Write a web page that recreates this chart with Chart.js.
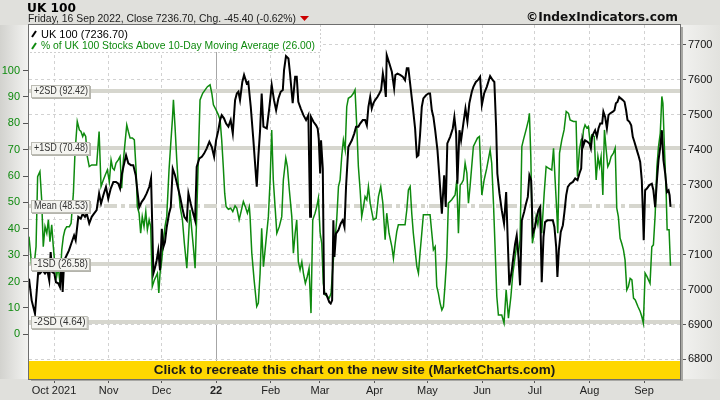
<!DOCTYPE html>
<html>
<head>
<meta charset="utf-8">
<script src="https://cdn.jsdelivr.net/npm/chart.js@4"></script>
<style>
  html, body { margin: 0; padding: 0; background: #e0e0dc; }
  #wrap { width: 720px; height: 400px; }
</style>
</head>
<body>
<div id="wrap"><canvas id="ukChart" width="720" height="400"></canvas></div>
<script>
// x values are days counted from 1 Oct 2021
const monthStarts = [0, 31, 61, 92, 123, 151, 182, 212, 243, 273, 304, 335];
const monthLabels = ['Oct 2021', 'Nov', 'Dec', '22', 'Feb', 'Mar', 'Apr', 'May', 'Jun', 'Jul', 'Aug', 'Sep'];
const priceTicks = [6800, 6900, 7000, 7100, 7200, 7300, 7400, 7500, 7600, 7700];
const pctTicks = [0, 10, 20, 30, 40, 50, 60, 70, 80, 90, 100];

// UK 100 close
const ukDays = [-14.2, -12.7, -10.8, -8.9, -8.0, -6.4, -5.1, -3.8, -2.7, -1.9, -1.0, 0.2, 1.1, 2.4, 3.4, 4.4, 4.9, 5.8, 7.2, 8.5,
  10.1, 11.4, 12.3, 13.8, 15.2, 16.3, 17.6, 18.6, 20.0, 21.4, 22.7, 24.2, 25.6, 26.7, 28.0, 29.5, 30.8, 32.2, 33.7, 35.2,
  36.5, 37.5, 38.4, 39.4, 40.9, 42.2, 43.7, 45.0, 46.4, 47.3, 48.4, 49.8, 51.1, 52.6, 54.1, 55.1, 55.8, 56.4, 57.4, 58.3,
  59.2, 60.2, 61.2, 62.1, 63.0, 64.0, 65.3, 66.3, 67.4, 68.7, 70.0, 71.6, 72.9, 74.0, 75.4, 76.3, 77.6, 78.8, 80.1, 81.0,
  82.5, 83.9, 85.2, 86.7, 88.2, 89.6, 90.9, 92.0, 93.3, 94.3, 95.2, 96.5, 97.7, 99.0, 100.3, 101.5, 102.8, 103.8, 104.7, 105.6,
  106.9, 107.9, 109.4, 110.3, 111.7, 113.2, 115.1, 116.0, 117.0, 117.9, 118.9, 120.8, 122.3, 123.6, 124.9, 126.1, 127.4, 128.7, 129.9, 130.6,
  131.7, 133.1, 134.0, 135.5, 136.9, 137.8, 138.7, 140.1, 141.6, 143.1, 144.4, 145.4, 145.9, 147.3, 148.8, 149.7, 150.3, 151.1, 151.6, 152.6,
  153.3, 154.5, 155.2, 156.3, 157.1, 157.9, 158.6, 159.2, 160.1, 161.5, 162.8, 163.9, 164.9, 165.8, 167.1, 169.1, 170.5, 171.5, 172.8, 173.8,
  175.3, 176.6, 177.6, 178.5, 179.5, 180.4, 181.3, 182.3, 183.6, 184.7, 185.7, 186.7, 187.6, 188.4, 188.9, 190.4, 191.8, 193.1, 193.8, 195.0,
  196.5, 198.0, 199.3, 200.3, 201.2, 202.6, 203.7, 205.0, 206.0, 206.9, 207.8, 208.8, 209.7, 211.2, 212.6, 213.5, 214.5, 215.4, 216.4, 217.7,
  218.8, 220.2, 221.5, 222.4, 223.3, 224.9, 226.4, 227.3, 228.3, 229.0, 230.2, 231.1, 232.4, 233.6, 234.7, 235.8, 237.2, 238.1, 239.5, 240.6,
  241.9, 242.9, 244.2, 245.7, 247.6, 249.1, 250.0, 251.0, 251.7, 252.9, 254.2, 255.5, 256.7, 257.6, 258.5, 259.9, 260.8, 261.8, 262.7, 263.7,
  264.6, 265.6, 266.9, 268.0, 269.0, 269.9, 270.9, 271.8, 273.1, 274.1, 275.0, 276.0, 276.9, 277.9, 278.8, 280.1, 281.7, 283.2, 284.1, 285.1,
  285.8, 286.6, 287.7, 288.9, 289.8, 290.8, 291.7, 293.0, 294.6, 295.9, 297.2, 298.3, 299.3, 300.0, 300.6, 301.5, 302.8, 304.0, 304.8, 305.5,
  306.3, 307.2, 308.2, 309.1, 310.1, 311.2, 311.9, 312.9, 313.9, 314.8, 315.7, 317.3, 318.2, 319.0, 319.9, 320.9, 321.8, 323.0, 323.9, 324.8,
  325.6, 326.7, 327.7, 328.6, 329.5, 330.9, 331.8, 332.8, 333.7, 334.3, 334.8, 335.6, 336.6, 338.0, 339.4, 340.3, 341.3, 342.3, 343.2, 344.2,
  345.1, 346.0, 347.0, 348.0, 348.9, 349.5, 350.0];
const ukClose = [7031, 6969, 6931, 7055, 7046, 7055, 7046, 7055, 7026, 7107, 7050, 7046, 7021, 7018, 7007, 7084, 6993, 7084, 7098, 7112,
  7136, 7155, 7141, 7208, 7203, 7217, 7208, 7217, 7189, 7208, 7217, 7227, 7275, 7246, 7270, 7294, 7260, 7289, 7308, 7308,
  7303, 7289, 7327, 7351, 7384, 7361, 7356, 7356, 7327, 7284, 7236, 7251, 7260, 7275, 7294, 7318, 7179, 7046, 7064, 7084,
  7112, 7055, 7174, 7122, 7136, 7179, 7217, 7236, 7346, 7327, 7299, 7265, 7232, 7208, 7198, 7275, 7246, 7222, 7198, 7351,
  7375, 7380, 7389, 7404, 7423, 7408, 7380, 7427, 7456, 7485, 7499, 7490, 7475, 7466, 7485, 7447, 7542, 7561, 7566, 7542,
  7594, 7614, 7590, 7594, 7523, 7427, 7294, 7380, 7456, 7561, 7466, 7461, 7523, 7585, 7542, 7513, 7547, 7566, 7571, 7628,
  7668, 7661, 7618, 7533, 7609, 7609, 7537, 7518, 7499, 7485, 7499, 7208, 7494, 7480, 7470, 7461, 7432, 7332, 7427, 7346,
  6988, 6988, 6978, 6964, 6960, 6969, 7198, 7093, 7160, 7170, 7189, 7198, 7179, 7294, 7408, 7427, 7447, 7466, 7466, 7475,
  7485, 7485, 7470, 7523, 7551, 7518, 7533, 7542, 7551, 7561, 7571, 7618, 7590, 7551, 7671, 7647, 7623, 7576, 7614, 7618,
  7614, 7609, 7599, 7633, 7633, 7571, 7523, 7461, 7380, 7384, 7442, 7523, 7547, 7556, 7561, 7561, 7513, 7494, 7456, 7399,
  7322, 7217, 7327, 7236, 7418, 7437, 7461, 7494, 7447, 7303, 7456, 7427, 7475, 7518, 7480, 7533, 7566, 7580, 7594, 7599,
  7609, 7528, 7561, 7580, 7611, 7599, 7594, 7466, 7332, 7275, 7227, 7189, 7279, 7141, 7012, 7055, 7093, 7131, 7155, 7093,
  7012, 7198, 7222, 7246, 7265, 7327, 7313, 7160, 7179, 7208, 7227, 7236, 7021, 7150, 7193, 7198, 7198, 7198, 7179, 7122,
  7036, 7112, 7165, 7184, 7222, 7270, 7294, 7303, 7308, 7318, 7313, 7332, 7346, 7427, 7413, 7427, 7423, 7418, 7404, 7437,
  7447, 7456, 7437, 7461, 7475, 7475, 7509, 7494, 7461, 7499, 7504, 7509, 7513, 7533, 7537, 7551, 7547, 7542, 7537, 7513,
  7485, 7480, 7470, 7437, 7423, 7399, 7384, 7365, 7313, 7227, 7141, 7284, 7289, 7299, 7303, 7284, 7236, 7313, 7370, 7408,
  7456, 7370, 7332, 7279, 7284, 7270, 7236.7];

// % of UK 100 stocks above 10-day moving average
const breadthDays = [-14.2, -12.7, -11.4, -10.2, -9.3, -8.0, -7.0, -6.1, -5.1, -4.1, -3.2, -2.3, -1.3, -0.4, 0.6, 1.5, 2.4, 3.4, 4.4, 5.3,
  6.2, 7.2, 8.7, 9.7, 11.0, 11.9, 13.2, 14.4, 15.3, 16.3, 17.0, 18.0, 18.9, 20.0, 21.4, 22.7, 24.2, 25.6, 26.7, 28.0,
  29.1, 30.3, 31.4, 32.4, 33.3, 34.2, 35.2, 36.5, 37.5, 38.4, 39.4, 40.3, 41.3, 42.2, 43.2, 44.5, 45.6, 46.6, 47.3, 48.3,
  49.2, 50.1, 51.1, 52.1, 53.0, 54.0, 54.9, 55.8, 57.0, 57.9, 58.7, 59.5, 60.2, 61.2, 62.1, 63.0, 64.0, 65.3, 66.3, 67.2,
  67.8, 68.7, 69.7, 70.6, 71.6, 72.9, 74.0, 75.4, 76.3, 77.2, 78.2, 79.1, 80.1, 81.0, 81.9, 82.9, 84.4, 85.8, 87.1, 88.6,
  89.6, 90.5, 92.0, 93.3, 94.3, 95.2, 96.1, 96.9, 97.7, 99.0, 100.3, 101.5, 102.8, 103.8, 105.1, 106.2, 107.5, 108.6, 109.8, 110.9,
  111.3, 112.3, 113.6, 115.1, 116.0, 117.0, 117.9, 118.9, 120.4, 121.7, 122.7, 123.6, 124.5, 125.5, 126.5, 127.9, 129.3, 130.2, 131.6, 132.5,
  133.6, 135.0, 135.9, 136.9, 137.8, 138.7, 139.7, 140.7, 141.6, 142.7, 143.8, 144.8, 145.9, 146.9, 148.2, 149.2, 150.1, 151.1, 152.0, 152.9,
  153.9, 155.2, 156.3, 157.3, 158.3, 159.2, 160.5, 161.5, 162.4, 163.4, 164.3, 165.3, 166.2, 167.1, 168.7, 170.0, 170.9, 171.9, 172.8, 173.8,
  174.7, 175.7, 176.6, 177.6, 178.5, 179.5, 180.4, 181.3, 182.9, 184.2, 185.5, 186.7, 188.0, 188.9, 190.2, 191.8, 192.7, 193.7, 194.6, 195.5,
  197.5, 199.3, 200.3, 201.2, 202.2, 203.1, 204.0, 205.0, 206.0, 206.9, 207.8, 208.8, 209.7, 211.6, 213.5, 214.5, 215.4, 216.4, 217.3, 218.2,
  219.2, 220.2, 221.1, 222.0, 223.0, 223.9, 225.8, 227.7, 228.7, 229.6, 230.6, 231.5, 232.4, 233.4, 234.4, 235.3, 236.2, 238.1, 240.4, 241.5,
  242.9, 244.2, 245.7, 247.6, 248.5, 249.5, 250.4, 251.4, 252.3, 254.2, 255.5, 256.7, 258.0, 259.4, 260.5, 261.8, 262.7, 263.7, 264.6, 265.6,
  266.5, 268.0, 269.4, 269.9, 270.7, 271.6, 272.6, 273.7, 274.7, 276.0, 276.9, 278.3, 279.4, 280.7, 282.6, 283.6, 284.5, 285.5, 286.0, 287.0,
  288.3, 289.6, 290.8, 292.1, 293.0, 294.9, 296.4, 297.2, 298.3, 299.3, 300.2, 300.6, 301.5, 302.5, 303.4, 304.4, 305.3, 306.7, 307.8, 308.8,
  309.7, 310.6, 311.6, 312.5, 313.5, 314.4, 315.3, 316.3, 317.6, 318.6, 319.5, 320.4, 321.4, 322.3, 323.3, 324.2, 325.2, 326.1, 327.1, 328.1,
  329.0, 330.0, 331.5, 332.8, 333.7, 334.6, 335.6, 336.6, 337.5, 338.4, 339.4, 340.3, 341.3, 342.3, 343.2, 344.2, 345.1, 345.7, 346.6, 347.5,
  348.1, 349.2, 350.0];
const breadthPct = [37.0, 26.3, 25.6, 33.2, 59.8, 61.7, 51.0, 33.2, 40.8, 38.3, 43.4, 35.1, 41.5, 33.2, 25.6, 21.9, 25.6, 19.3, 32.0, 37.0,
  39.6, 40.8, 40.8, 42.1, 53.5, 68.7, 80.7, 77.5, 76.9, 75.0, 76.2, 75.0, 67.4, 63.6, 64.2, 64.2, 64.2, 76.9, 56.0, 58.5,
  60.4, 62.3, 57.9, 66.1, 63.0, 62.3, 64.9, 66.1, 67.4, 55.4, 66.1, 72.5, 79.4, 76.9, 74.4, 74.4, 73.7, 62.3, 48.4, 45.9,
  38.3, 44.6, 40.8, 46.5, 39.6, 43.4, 40.8, 18.1, 20.6, 21.9, 23.1, 15.6, 23.1, 28.2, 35.1, 40.8, 44.6, 62.3, 72.5, 81.3,
  88.9, 78.8, 66.1, 56.0, 48.4, 43.4, 34.5, 25.0, 35.8, 47.2, 39.6, 33.2, 25.0, 44.6, 66.1, 88.9, 91.4, 92.7, 93.9, 94.6,
  91.4, 87.0, 85.1, 83.2, 81.3, 73.7, 63.6, 53.5, 48.4, 47.4, 47.8, 46.5, 48.7, 47.8, 43.4, 46.5, 50.3, 48.4, 45.9, 48.4,
  44.6, 30.7, 20.6, 10.5, 11.8, 23.1, 40.2, 25.6, 35.8, 44.6, 58.5, 77.5, 58.5, 48.4, 38.3, 40.8, 44.6, 58.5, 66.8, 63.6,
  54.7, 44.6, 30.7, 38.3, 43.4, 27.5, 24.4, 27.5, 23.1, 19.3, 21.9, 25.0, 8.0, 43.4, 45.9, 48.4, 51.6, 38.3, 34.5, 19.3,
  14.9, 14.3, 13.7, 15.6, 25.6, 33.2, 43.4, 56.0, 58.5, 68.0, 73.7, 69.9, 86.3, 89.5, 90.2, 91.4, 92.7, 78.8, 63.6, 54.7,
  44.6, 48.4, 52.2, 51.0, 56.0, 49.7, 46.5, 43.4, 44.0, 52.2, 56.0, 49.7, 35.8, 45.9, 38.3, 33.2, 28.8, 34.5, 38.9, 41.5,
  41.5, 41.5, 47.2, 54.7, 56.0, 45.9, 38.3, 32.0, 25.6, 23.1, 30.7, 38.3, 45.3, 45.3, 45.3, 38.3, 32.0, 33.2, 18.1, 15.6,
  11.8, 9.2, 10.5, 18.7, 29.4, 49.7, 51.0, 52.8, 58.5, 38.3, 56.6, 57.3, 58.5, 64.9, 61.1, 49.7, 56.0, 71.2, 74.4, 75.0,
  52.8, 58.5, 63.0, 69.9, 64.9, 49.7, 33.2, 14.3, 7.3, 7.3, 4.2, 16.8, 6.1, 14.3, 23.1, 29.4, 33.9, 30.7, 35.8, 71.2,
  73.7, 77.5, 81.3, 83.8, 67.4, 34.5, 38.3, 44.6, 41.5, 48.4, 38.3, 53.5, 63.6, 63.0, 62.3, 70.5, 58.5, 45.9, 38.3, 68.7,
  73.7, 77.5, 84.5, 83.8, 81.3, 80.7, 80.7, 59.8, 69.9, 73.7, 74.4, 77.5, 79.4, 78.2, 78.8, 72.5, 75.6, 75.0, 58.5, 67.4,
  63.6, 67.4, 52.8, 77.5, 69.9, 63.6, 64.9, 67.4, 68.7, 70.6, 47.8, 44.6, 36.4, 34.5, 32.0, 28.2, 16.8, 18.1, 21.2, 20.6,
  13.7, 13.0, 10.5, 8.6, 6.7, 4.2, 23.1, 21.9, 20.6, 19.3, 33.2, 33.9, 45.3, 63.6, 71.2, 76.3, 90.2, 87.6, 69.9, 54.7,
  39.6, 39.6, 26.0];

// standard deviation bands of the breadth series
const bandNames = ['+2SD', '+1SD', 'Mean', '-1SD', '-2SD'];
const bandValues = [92.42, 70.48, 48.53, 26.58, 4.64];

const BLACK = '#000000';
const GREEN = '#0e8a0e';

function toPoints(xs, ys) {
    return xs.map((x, i) => ({ x: x, y: ys[i] }));
}

const backdrop = {
    id: 'backdrop',
    beforeDraw(chart) {
        const ctx = chart.ctx;
        const a = chart.chartArea;
        ctx.save();
        ctx.fillStyle = '#e0e0dc';
        ctx.fillRect(0, 0, chart.width, chart.height);
        let g = ctx.createLinearGradient(0, 0, a.left, 0);
        g.addColorStop(0, '#d2d2ce');
        g.addColorStop(1, '#f4f4f2');
        ctx.fillStyle = g;
        ctx.fillRect(0, a.top, a.left, a.bottom - a.top);
        g = ctx.createLinearGradient(a.right, 0, chart.width, 0);
        g.addColorStop(0, '#f2f2f0');
        g.addColorStop(1, '#e2e2de');
        ctx.fillStyle = g;
        ctx.fillRect(a.right, a.top, chart.width - a.right, a.bottom - a.top);
        ctx.fillStyle = '#ffffff';
        ctx.fillRect(a.left, a.top, a.right - a.left, a.bottom - a.top);
        ctx.restore();
    }
};

// thick SD band lines go under the data
const bands = {
    id: 'bands',
    beforeDatasetsDraw(chart) {
        const ctx = chart.ctx;
        const a = chart.chartArea;
        const ys = chart.scales.y1;
        ctx.save();
        ctx.strokeStyle = '#d6d6ce';
        ctx.lineWidth = 4;
        bandValues.forEach((v, i) => {
            const y = Math.round(ys.getPixelForValue(v));
            ctx.setLineDash(bandNames[i] === 'Mean' ? [13, 4, 4, 4] : []);
            ctx.beginPath();
            ctx.moveTo(a.left, y);
            ctx.lineTo(a.right, y);
            ctx.stroke();
        });
        ctx.restore();
    }
};

const overlay = {
    id: 'overlay',
    afterDatasetsDraw(chart) {
        const ctx = chart.ctx;
        const a = chart.chartArea;
        const ys = chart.scales.y1;
        ctx.save();

        // band labels
        ctx.font = '10px "Liberation Sans", Arial, sans-serif';
        ctx.textBaseline = 'middle';
        bandValues.forEach((v, i) => {
            const y = Math.round(ys.getPixelForValue(v));
            const label = bandNames[i] + ' (' + v.toFixed(2) + ')';
            const w = Math.min(ctx.measureText(label).width, 54) + 5;
            ctx.fillStyle = '#b4b4ac';
            ctx.fillRect(a.left + 3, y - 5, w, 13);
            ctx.fillStyle = '#f4f4f0';
            ctx.fillRect(a.left + 2, y - 6, w, 13);
            ctx.strokeStyle = '#bcbcb4';
            ctx.lineWidth = 1;
            ctx.strokeRect(a.left + 2.5, y - 5.5, w - 1, 12);
            ctx.fillStyle = '#333333';
            ctx.fillText(label, a.left + 5, y + 0.5, 54);
        });

        // legend box
        ctx.fillStyle = '#ffffff';
        ctx.fillRect(a.left, a.top, 291, 27);
        ctx.strokeStyle = '#cfcfcf';
        ctx.setLineDash([2, 2]);
        ctx.lineWidth = 1;
        ctx.beginPath();
        ctx.moveTo(a.left + 291.5, a.top);
        ctx.lineTo(a.left + 291.5, a.top + 27.5);
        ctx.lineTo(a.left, a.top + 27.5);
        ctx.stroke();
        ctx.setLineDash([]);
        ctx.lineWidth = 2;
        ctx.strokeStyle = BLACK;
        ctx.beginPath(); ctx.moveTo(a.left + 3, a.top + 12); ctx.lineTo(a.left + 7, a.top + 6); ctx.stroke();
        ctx.strokeStyle = GREEN;
        ctx.beginPath(); ctx.moveTo(a.left + 3, a.top + 24); ctx.lineTo(a.left + 7, a.top + 18); ctx.stroke();
        ctx.font = '11px "Liberation Sans", Arial, sans-serif';
        ctx.textBaseline = 'alphabetic';
        ctx.fillStyle = '#000000';
        ctx.fillText('UK 100 (7236.70)', a.left + 12, a.top + 12.5, 200);
        ctx.fillStyle = GREEN;
        ctx.fillText('% of UK 100 Stocks Above 10-Day Moving Average (26.00)', a.left + 12, a.top + 24, 274);

        // banner
        ctx.fillStyle = '#ffd700';
        ctx.fillRect(a.left, a.bottom - 18, a.right - a.left, 18);
        ctx.fillStyle = '#1a1a1a';
        ctx.font = 'bold 13.5px "Liberation Sans", Arial, sans-serif';
        ctx.textAlign = 'center';
        ctx.textBaseline = 'middle';
        ctx.fillText('Click to recreate this chart on the new site (MarketCharts.com)', (a.left + a.right) / 2, a.bottom - 9, 404);

        // frame with shadow
        ctx.fillStyle = '#a8a8a4';
        ctx.fillRect(a.right, a.top + 2, 3, a.bottom - a.top);
        ctx.fillRect(a.left + 2, a.bottom, a.right - a.left, 2);
        ctx.strokeStyle = '#6e6e6e';
        ctx.lineWidth = 1;
        ctx.strokeRect(a.left - 0.5, a.top - 0.5, a.right - a.left + 1, a.bottom - a.top + 1);
        ctx.restore();
    },
    afterDraw(chart) {
        const ctx = chart.ctx;
        ctx.save();
        ctx.textBaseline = 'alphabetic';
        ctx.fillStyle = '#000000';
        ctx.font = 'bold 13px "DejaVu Sans", Verdana, sans-serif';
        ctx.fillText('UK 100', 27, 12, 49);
        ctx.fillStyle = '#1a1a1a';
        ctx.font = '11px "Liberation Sans", Arial, sans-serif';
        ctx.fillText('Friday, 16 Sep 2022, Close 7236.70, Chg. -45.40 (-0.62%)', 28, 21.5, 268);
        ctx.fillStyle = '#cc0000';
        ctx.beginPath();
        ctx.moveTo(300, 16); ctx.lineTo(309, 16); ctx.lineTo(304.5, 21); ctx.closePath();
        ctx.fill();
        ctx.fillStyle = '#111111';
        ctx.font = 'bold 13px "DejaVu Sans", Verdana, sans-serif';
        ctx.textAlign = 'right';
        ctx.fillText('\u00A9IndexIndicators.com', 678, 21, 152);
        ctx.restore();
    }
};

const ctx = document.getElementById('ukChart').getContext('2d');
const chart = new Chart(ctx, {
    type: 'line',
    data: {
        datasets: [
            {
                label: 'UK 100 (7236.70)',
                data: toPoints(ukDays, ukClose),
                borderColor: BLACK,
                borderWidth: 2,
                pointRadius: 0,
                tension: 0,
                yAxisID: 'y'
            },
            {
                label: '% of UK 100 Stocks Above 10-Day Moving Average (26.00)',
                data: toPoints(breadthDays, breadthPct),
                borderColor: GREEN,
                borderWidth: 1.5,
                pointRadius: 0,
                tension: 0,
                yAxisID: 'y1'
            }
        ]
    },
    options: {
        responsive: false,
        animation: false,
        devicePixelRatio: 1,
        layout: { padding: { top: 25, left: 0, right: 0, bottom: 0 } },
        plugins: {
            legend: { display: false },
            tooltip: { enabled: false }
        },
        scales: {
            x: {
                type: 'linear',
                min: -14.2,
                max: 355.4,
                afterBuildTicks: (scale) => { scale.ticks = monthStarts.map(v => ({ value: v })); },
                afterFit: (scale) => { scale.height = 21; },
                ticks: {
                    autoSkip: false,
                    maxRotation: 0,
                    padding: 1,
                    color: '#222222',
                    font: (c) => ({
                        family: '"Liberation Sans Narrow", "Liberation Sans", Arial, sans-serif',
                        size: 11,
                        weight: c.tick && c.tick.value === 92 ? 'bold' : 'normal'
                    }),
                    callback: (value, index) => monthLabels[index]
                },
                grid: {
                    color: (c) => c.tick && c.tick.value === 92 ? '#a6a6a6' : '#d2d2d2',
                    tickColor: '#555555',
                    tickLength: 4,
                    lineWidth: 1
                },
                border: {
                    display: false,
                    dash: (c) => c.tick && c.tick.value === 92 ? [] : [3, 3]
                }
            },
            y: {
                type: 'linear',
                position: 'right',
                min: 6744,
                max: 7757,
                afterBuildTicks: (scale) => { scale.ticks = priceTicks.map(v => ({ value: v })); },
                afterFit: (scale) => { scale.width = 40; },
                ticks: {
                    padding: 2,
                    color: '#111111',
                    font: { family: '"Liberation Sans Narrow", "Liberation Sans", Arial, sans-serif', size: 11 },
                    callback: (value) => String(value)
                },
                grid: {
                    color: '#d2d2d2',
                    tickColor: '#555555',
                    tickLength: 6
                },
                border: { display: false, dash: [3, 3] }
            },
            y1: {
                type: 'linear',
                position: 'left',
                min: -17.0,
                max: 117.3,
                afterBuildTicks: (scale) => { scale.ticks = pctTicks.map(v => ({ value: v })); },
                afterFit: (scale) => { scale.width = 29; },
                ticks: {
                    padding: 3,
                    color: GREEN,
                    font: { family: '"Liberation Sans", Arial, sans-serif', size: 11 },
                    callback: (value) => String(value)
                },
                grid: {
                    drawOnChartArea: false,
                    tickColor: '#555555',
                    tickLength: 6
                },
                border: { display: false }
            }
        }
    },
    plugins: [backdrop, bands, overlay]
});
</script>
</body>
</html>
